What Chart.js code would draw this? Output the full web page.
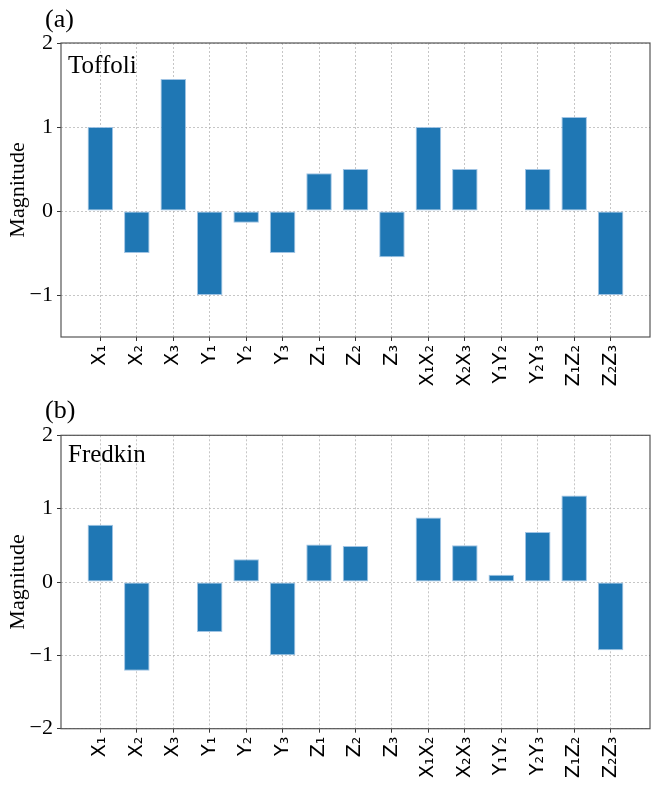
<!DOCTYPE html>
<html><head><meta charset="utf-8">
<script src="https://cdn.jsdelivr.net/npm/chart.js@4"></script>
<style>html,body{margin:0;padding:0;background:#fff;width:660px;height:792px;overflow:hidden;} canvas{display:block;position:absolute;left:0;}</style>
</head><body>
<canvas id="c1" width="660" height="390" style="top:0px"></canvas>
<canvas id="c2" width="660" height="402" style="top:390px"></canvas>
<script>
const categories = ['X₁','X₂','X₃','Y₁','Y₂','Y₃','Z₁','Z₂','Z₃','X₁X₂','X₂X₃','Y₁Y₂','Y₂Y₃','Z₁Z₂','Z₂Z₃'];
const toffoliValues = [1.0,-0.5,1.57,-1.0,-0.14,-0.5,0.45,0.5,-0.55,1.0,0.5,0,0.5,1.12,-1.0];
const fredkinValues = [0.78,-1.21,0,-0.68,0.31,-1.0,0.51,0.49,0,0.88,0.5,0.1,0.68,1.18,-0.93];
const toffoliTicks = [-1,0,1,2];
const fredkinTicks = [-2,-1,0,1,2];

const SERIF = '"Liberation Serif", "Times New Roman", serif';
const SANS = '"DejaVu Sans", sans-serif';

function makeChart(id, values, yMin, yMax, yTicks, panel, gate, canvasH, plotTop, plotBottom, panelBase, gateBase) {
  const textPlugin = {
    id: 'texts_' + id,
    afterDraw(chart) {
      const ctx = chart.ctx, a = chart.chartArea;
      ctx.save();
      ctx.strokeStyle = '#555';
      ctx.lineWidth = 1.2;
      ctx.strokeRect(a.left, a.top, a.right - a.left, a.bottom - a.top);
      ctx.fillStyle = '#000';
      ctx.textAlign = 'left';
      ctx.textBaseline = 'alphabetic';
      ctx.font = '26px ' + SERIF;
      ctx.fillText(panel, 45, panelBase);
      ctx.font = '25px ' + SERIF;
      ctx.fillText(gate, 68, gateBase);
      ctx.restore();
    }
  };
  const gridOpts = {
    offset: false,
    color: 'rgba(170,170,170,0.85)', lineWidth: 0.8,
    drawTicks: true, tickLength: 4, tickColor: '#333', tickWidth: 1, tickBorderDash: []
  };
  return new Chart(document.getElementById(id), {
    type: 'bar',
    data: {
      datasets: [{
        data: values.map((v, i) => ({x: i, y: v})),
        backgroundColor: '#1f77b4',
        borderColor: 'rgba(150,190,225,0.9)',
        borderWidth: 1,
        borderSkipped: false,
        barPercentage: 0.7,
        categoryPercentage: 1.0
      }]
    },
    options: {
      responsive: false,
      animation: false,
      devicePixelRatio: 1,
      layout: {padding: {left: 0, right: 10, top: plotTop, bottom: 0}},
      plugins: {legend: {display: false}, tooltip: {enabled: false}},
      scales: {
        x: {
          type: 'linear',
          min: -1.08, max: 15.08,
          offset: false,
          z: 1,
          afterBuildTicks: (s) => { s.ticks = categories.map((c, i) => ({value: i})); },
          afterFit: (s) => { s.height = canvasH - plotBottom; },
          ticks: {
            autoSkip: false, minRotation: 90, maxRotation: 90, padding: 4,
            color: '#000', font: {family: SANS, size: 19},
            callback: (v) => categories[v]
          },
          grid: gridOpts,
          border: {display: false, dash: [2, 2]}
        },
        y: {
          type: 'linear',
          min: yMin, max: yMax,
          z: 1,
          afterBuildTicks: (s) => { s.ticks = yTicks.map(v => ({value: v})); },
          afterFit: (s) => { s.width = 61; },
          title: {display: true, text: 'Magnitude', color: '#000', font: {family: SERIF, size: 22}, padding: {top: 5, bottom: 0}},
          ticks: {
            padding: 4, color: '#000', font: {family: SERIF, size: 22},
            callback: (v) => String(v).replace('-', '\u2212')
          },
          grid: gridOpts,
          border: {display: false, dash: [2, 2]}
        }
      }
    },
    plugins: [textPlugin]
  });
}

makeChart('c1', toffoliValues, -1.5, 2, toffoliTicks, '(a)', 'Toffoli', 390, 43, 337, 27, 73);
makeChart('c2', fredkinValues, -2, 2, fredkinTicks, '(b)', 'Fredkin', 402, 45.3, 338.7, 28, 72);
</script>
</body></html>
